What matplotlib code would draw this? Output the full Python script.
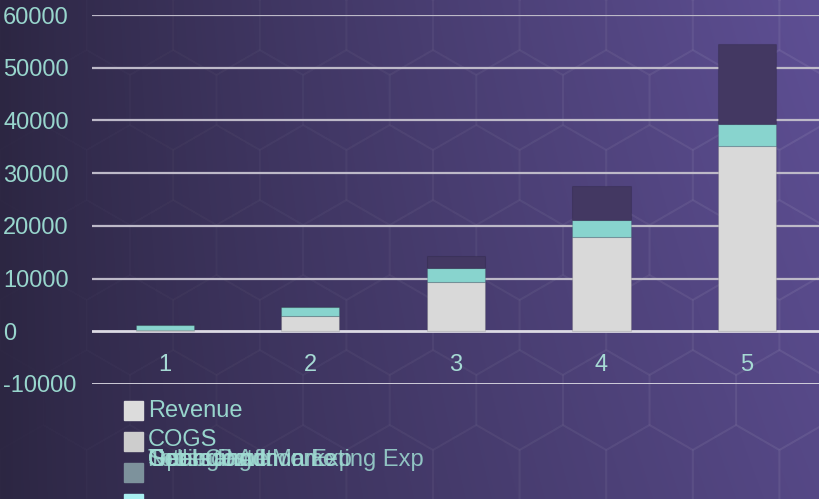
import numpy as np
import matplotlib
matplotlib.use("Agg")
import matplotlib.pyplot as plt
from matplotlib.patches import Rectangle, RegularPolygon

# ---- data ----
categories = ["1", "2", "3", "4", "5"]
base_vals = [150, 2850, 9300, 17900, 35100]
mid_vals = [1050, 1700, 2660, 3300, 4300]
top_vals = [0, 0, 2280, 6390, 15100]
y_ticks = [-10000, 0, 10000, 20000, 30000, 40000, 50000, 60000]
legend_main = ["Revenue", "COGS"]
legend_stacked = ["Gross Profit", "Selling and Marketing Exp", "General Admin Exp",
                  "Operating Income", "Net Income", "Total Cost"]

bar_colors = ["#d9d9d9", "#88d4ce", "#433862"]
legend_colors = ["#dcdcdc", "#cdcdcd", "#7d929c", "#a8eef0"]
text_col = "#98d6cd"

W, H = 819, 499
plt.rcParams['font.family'] = ['Liberation Sans', 'DejaVu Sans']
fig = plt.figure(figsize=(W / 100, H / 100), dpi=100)

# ---- background gradient with faint hexagons ----
bg = fig.add_axes([0, 0, 1, 1], zorder=-10)
xs = np.linspace(0, 1, W)
ys = np.linspace(0, 1, H)
X, Y = np.meshgrid(xs, ys)
t = X * (0.8 + 0.2 * (1 - Y))
t = np.clip(t, 0, 1) ** 0.85
c0 = np.array([44, 38, 66]) / 255
c1 = np.array([94, 79, 148]) / 255
img = c0[None, None, :] * (1 - t[..., None]) + c1[None, None, :] * t[..., None]
bg.imshow(img, extent=[0, W, H, 0], aspect='auto')
r = 50
dx = r * np.sqrt(3)
dy = 1.5 * r
row = 0
yy = -r
while yy < H + r:
    off = (dx / 2) if row % 2 else 0
    xx = -dx + off
    while xx < W + dx:
        a = 0.005 + 0.035 * max(0, xx / W)
        bg.add_patch(RegularPolygon((xx, yy), 6, radius=r, orientation=0,
                                    fill=False, ec=(1, 1, 1, a), lw=1.5))
        xx += dx
    yy += dy
    row += 1
bg.set_xlim(0, W)
bg.set_ylim(H, 0)
bg.axis('off')

# ---- main axes ----
ax = fig.add_axes([92 / W, 1 - 384 / H, 1 - 92 / W + 0.001, (384 - 15) / H])
ax.patch.set_alpha(0)
x = np.arange(1, len(categories) + 1)
bw = 0.4
ax.bar(x, base_vals, width=bw, color=bar_colors[0], edgecolor=(0, 0, 0, 0.12), lw=0.8, zorder=3)
ax.bar(x, mid_vals, width=bw, bottom=base_vals, color=bar_colors[1],
       edgecolor=(0, 0, 0, 0.12), lw=0.8, zorder=3)
ax.bar(x, top_vals, width=bw, bottom=np.array(base_vals) + np.array(mid_vals),
       color=bar_colors[2], edgecolor=(0, 0, 0, 0.12), lw=0.8, zorder=3)

ax.set_xlim(0.5, len(categories) + 0.5)
ax.set_ylim(-10000, 60000)
ax.set_yticks(y_ticks)
ax.set_yticklabels([str(v) for v in y_ticks])
for v in y_ticks:
    ax.axhline(v, color="#dcdae4" if v in (0, -10000) else "#bdb9c8",
               lw=2.0 if v in (0, -10000) else 1.6, zorder=1)
ax.set_xticks(x)
ax.set_xticklabels(categories)
for s in ax.spines.values():
    s.set_visible(False)
ax.spines['bottom'].set_position(('data', 0))
ax.tick_params(axis='y', length=0, pad=64, labelsize=17, labelcolor=text_col)
ax.tick_params(axis='x', length=0, pad=16, labelsize=17, labelcolor="#a6dad4")
for lbl in ax.get_yticklabels():
    lbl.set_horizontalalignment('left')

# ---- legend (manual, overlapping like the reference) ----
def fx(px):
    return px / W

def fy(py):
    return 1 - py / H

sq = 19
for i, name in enumerate(legend_main):
    top = 401 + 31 * i
    fig.patches.append(Rectangle((fx(124), fy(top + sq)), sq / W, sq / H,
                                 transform=fig.transFigure, color=legend_colors[i]))
    fig.text(fx(148), fy(411 + 29 * i), name, fontsize=17, color=text_col,
             va='center', ha='left')
for i, c in enumerate(legend_colors[2:]):
    top = 463 + 31 * i
    fig.patches.append(Rectangle((fx(124), fy(top + sq)), sq / W, sq / H,
                                 transform=fig.transFigure, color=c))
for name in legend_stacked:
    fig.text(fx(148), fy(460), name, fontsize=17, color="#9fdcd3",
             va='center', ha='left', alpha=0.85)

fig.savefig("out.png", dpi=100)
